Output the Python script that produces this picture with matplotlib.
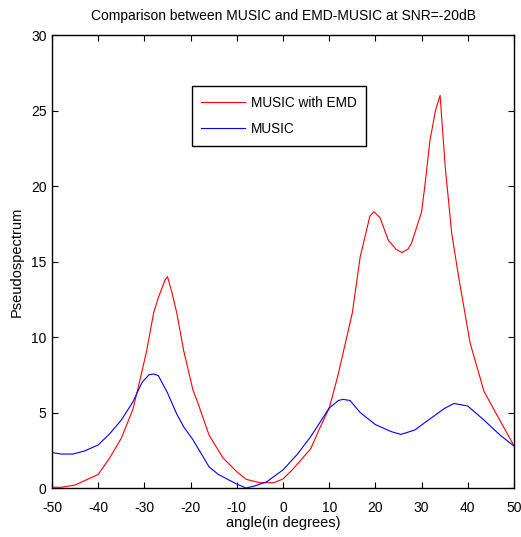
import matplotlib
matplotlib.use("Agg")
import matplotlib.pyplot as plt

# MUSIC with EMD (red)
emd_angle = [-50, -48, -45, -40, -37.5, -35, -32.5, -31, -29.5, -28, -27, -25.5, -25,
             -24, -23, -21.5, -19.5, -18.5, -16, -13, -10, -8, -5, -2, 0, 2, 6, 8,
             10, 11.5, 12, 15, 16.7, 18.8, 19.7, 21, 22.8, 24.5, 25.7, 27, 27.8, 30,
             30.7, 31.8, 33, 34, 35.1, 36.5, 38, 40.5, 43.5, 46, 50]
emd_value = [0.05, 0.05, 0.2, 0.9, 2.0, 3.3, 5.2, 7.1, 9.1, 11.6, 12.6, 13.8, 14.0,
             12.9, 11.6, 9.1, 6.5, 5.7, 3.5, 2.0, 1.08, 0.58, 0.35, 0.35, 0.6, 1.2,
             2.6, 4.0, 5.3, 7.0, 7.6, 11.6, 15.3, 18.0, 18.3, 17.9, 16.4, 15.8, 15.6,
             15.8, 16.2, 18.3, 20.0, 23.0, 25.0, 26.0, 21.3, 16.9, 14.0, 9.6, 6.4,
             5.0, 2.8]

# plain MUSIC (blue)
music_angle = [-50, -48, -45.5, -43, -40, -37.5, -35, -32.5, -30.5, -29, -28, -27,
               -25, -23, -21.5, -19.5, -16, -14, -10, -8, -6, -3.5, 0, 3, 6, 10, 12,
               13, 14.5, 16.7, 20, 23.5, 25.5, 28.5, 31, 35, 37, 40, 43.5, 47, 50]
music_value = [2.35, 2.25, 2.25, 2.45, 2.85, 3.6, 4.5, 5.7, 7.0, 7.5, 7.55, 7.45,
               6.3, 4.9, 4.05, 3.2, 1.4, 0.9, 0.26, 0.0, 0.15, 0.42, 1.2, 2.2, 3.4,
               5.3, 5.8, 5.87, 5.8, 5.0, 4.2, 3.73, 3.55, 3.84, 4.4, 5.28, 5.6, 5.43,
               4.5, 3.5, 2.78]

plt.rcParams["font.family"] = ["Liberation Sans", "DejaVu Sans"]
plt.rcParams["font.size"] = 10
plt.rcParams["axes.unicode_minus"] = False

fig = plt.figure(figsize=(5.21, 5.37), dpi=100)
ax = fig.add_axes([0.0998, 0.0912, 0.8868, 0.8436])

ax.plot(emd_angle, emd_value, color="red", lw=0.8, label="MUSIC with EMD")
ax.plot(music_angle, music_value, color="blue", lw=0.8, label="MUSIC")

ax.set_xlim(-50, 50)
ax.set_ylim(0, 30)
ax.set_xticks(range(-50, 51, 10))
ax.set_yticks(range(0, 31, 5))
ax.tick_params(direction="in", top=True, right=True, length=4, width=0.8,
               labelsize=10)
ax.tick_params(axis="x", pad=9)
ax.tick_params(axis="y", pad=4)
for s in ax.spines.values():
    s.set_linewidth(1.0)

ax.set_xlabel("angle(in degrees)", fontsize=10.5, labelpad=1)
ax.set_ylabel("Pseudospectrum", fontsize=10.5, labelpad=5)
ax.set_title("Comparison between MUSIC and EMD-MUSIC at SNR=-20dB",
             fontsize=10, pad=11)

leg = ax.legend(loc="upper left", bbox_to_anchor=(0.303, 0.887), fancybox=False,
                edgecolor="black", framealpha=1, fontsize=9.8, borderaxespad=0,
                handlelength=3.2, handletextpad=0.42, borderpad=0.69,
                labelspacing=0.92)
leg.get_frame().set_linewidth(1.0)

fig.savefig("out.png", dpi=100)
